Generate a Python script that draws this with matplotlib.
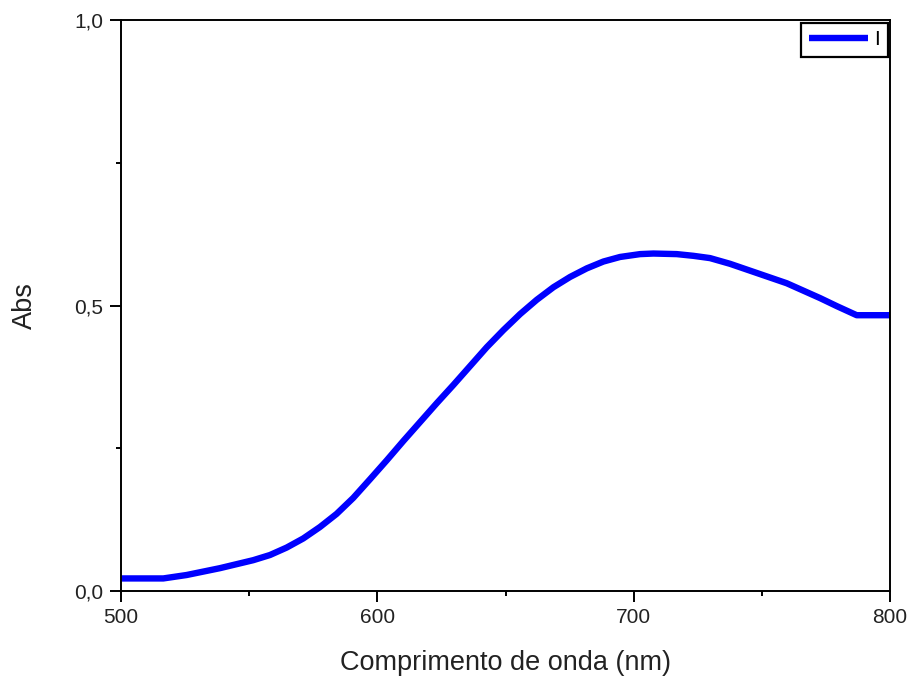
import matplotlib
matplotlib.use("Agg")
import matplotlib.pyplot as plt
from matplotlib.ticker import FixedLocator, FuncFormatter

plt.rcParams['font.family'] = ['Liberation Sans', 'DejaVu Sans']

# Data (wavelength nm, absorbance)
wavelength = [500, 516.5, 525.6, 538.6, 551.6, 558.1, 564.6, 571.1, 577.6, 584.1,
              590.6, 597.2, 603.7, 610.2, 616.7, 623.2, 629.7, 636.2, 642.7, 649.2,
              655.7, 662.2, 668.7, 675.2, 681.7, 688.2, 694.7, 702.5, 707.7, 716.8,
              723.3, 729.8, 737.6, 746.7, 753.2, 759.7, 766.2, 772.7, 779.2, 787.0,
              800]
absorbance = [0.022, 0.022, 0.028, 0.040, 0.054, 0.063, 0.076, 0.092, 0.112, 0.135,
              0.163, 0.196, 0.229, 0.263, 0.296, 0.329, 0.361, 0.394, 0.427, 0.457,
              0.485, 0.510, 0.532, 0.550, 0.565, 0.577, 0.585, 0.590, 0.591, 0.590,
              0.587, 0.583, 0.573, 0.559, 0.549, 0.539, 0.526, 0.513, 0.499, 0.483,
              0.483]
series_label = "I"
x_ticks = [500, 600, 700, 800]
x_minor = [550, 650, 750]
y_ticks = [0.0, 0.5, 1.0]
y_minor = [0.25, 0.75]

fig = plt.figure(figsize=(9.1, 6.82), dpi=100)
ax = fig.add_axes([121/910, 1 - 591/682, (890-121)/910, (591-20)/682])

ax.plot(wavelength, absorbance, color='#0000ff', linewidth=4.6,
        solid_capstyle='butt', solid_joinstyle='round', label=series_label)

ax.set_xlim(500, 800)
ax.set_ylim(0, 1.0)
ax.xaxis.set_major_locator(FixedLocator(x_ticks))
ax.xaxis.set_minor_locator(FixedLocator(x_minor))
ax.yaxis.set_major_locator(FixedLocator(y_ticks))
ax.yaxis.set_minor_locator(FixedLocator(y_minor))
ax.yaxis.set_major_formatter(FuncFormatter(lambda v, p: f"{v:.1f}".replace('.', ',')))

ax.tick_params(which='major', direction='out', length=8, width=1.4,
               labelsize=15, color='black', labelcolor='#222222')
ax.tick_params(axis='x', which='major', pad=4)
ax.tick_params(axis='y', which='major', pad=5)
ax.tick_params(which='minor', direction='out', length=3.8, width=1.4, color='black')
ax.tick_params(top=False, right=False, which='both')

for s in ax.spines.values():
    s.set_linewidth(1.4)
    s.set_color('black')

ax.set_xlabel("Comprimento de onda (nm)", fontsize=19.5, labelpad=17, color='#222222')
ax.set_ylabel("Abs", fontsize=19.5, labelpad=26, color='#222222')

leg = ax.legend(loc='upper right', bbox_to_anchor=(1.0, 1.0), borderaxespad=0.12,
                fancybox=False, framealpha=1, edgecolor='black', fontsize=15,
                handlelength=2.85, handletextpad=0.3, borderpad=0.36)
leg.get_frame().set_linewidth(1.6)

fig.savefig("out.png", dpi=100)
